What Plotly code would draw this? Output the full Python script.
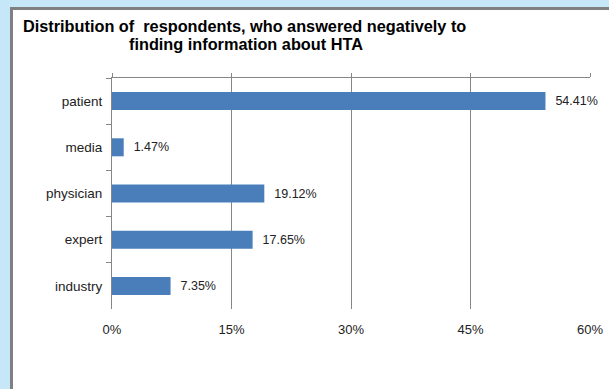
import plotly.graph_objects as go

categories = ["patient", "media", "physician", "expert", "industry"]
values = [54.41, 1.47, 19.12, 17.65, 7.35]
labels = ["54.41%", "1.47%", "19.12%", "17.65%", "7.35%"]
x_ticks = [0, 15, 30, 45, 60]
x_tick_labels = ["0%", "15%", "30%", "45%", "60%"]
title_line1 = "Distribution of\u00a0\u00a0respondents, who answered negatively to"
title_line2 = "finding information about HTA"

W, H = 609, 389
ML, MR, MT, MB = 112, 19, 78, 80
PW, PH = W - ML - MR, H - MT - MB

def px_x(p):
    return (p - ML) / PW

def px_y(p):
    return (H - MB - p) / PH

FONT = "Liberation Sans, Arial, sans-serif"
GRID = "#868686"

fig = go.Figure()
fig.add_trace(go.Bar(
    x=values, y=categories, orientation="h",
    marker=dict(color="#4a7ebb", line=dict(width=0)),
    text=["\u00a0\u00a0" + t for t in labels], textposition="outside",
    textfont=dict(family=FONT, size=12.5, color="#222222"),
    cliponaxis=False, width=0.39, hoverinfo="skip",
))
fig.add_trace(go.Scatter(x=[0, 60], y=[categories[0], categories[0]], xaxis="x2",
                         mode="markers", marker=dict(opacity=0), hoverinfo="skip", showlegend=False))

fig.update_layout(
    width=W, height=H,
    margin=dict(l=ML, r=MR, t=MT, b=MB, autoexpand=False),
    paper_bgcolor="#c6e7f7", plot_bgcolor="rgba(0,0,0,0)",
    showlegend=False,
    font=dict(family=FONT, size=12.5, color="#222222"),
    xaxis=dict(range=[0, 60], tickvals=x_ticks, ticktext=x_tick_labels, automargin=False,
               showgrid=True, gridcolor=GRID, gridwidth=1, zeroline=False,
               showline=False, ticks="outside", ticklen=8, tickcolor="rgba(0,0,0,0)",
               tickfont=dict(family=FONT, size=13, color="#222222"), fixedrange=True),
    xaxis2=dict(range=[0, 60], tickvals=x_ticks, overlaying="x", side="top", automargin=False,
                showgrid=False, zeroline=False, showline=True, linecolor=GRID, linewidth=1,
                ticks="outside", ticklen=4, tickcolor=GRID, showticklabels=False),
    yaxis=dict(autorange="reversed", showline=True, linecolor=GRID, linewidth=1, automargin=False,
               ticks="outside", ticklen=5, tickcolor=GRID, tickson="boundaries",
               showgrid=False, ticklabelstandoff=6,
               tickfont=dict(family=FONT, size=13.5, color="#222222")),
    shapes=[dict(type="rect", xref="paper", yref="paper", layer="below",
                 x0=px_x(11.5), x1=px_x(640), y0=px_y(8.5), y1=px_y(420),
                 fillcolor="white", line=dict(color="#808080", width=3))],
    annotations=[
        dict(text="<b>" + title_line1 + "</b>", xref="paper", yref="paper",
             x=px_x(21), y=px_y(26), xanchor="left", yanchor="middle", showarrow=False,
             font=dict(family=FONT, size=16.3, color="#000000")),
        dict(text="<b>" + title_line2 + "</b>", xref="paper", yref="paper",
             x=px_x(127), y=px_y(44), xanchor="left", yanchor="middle", showarrow=False,
             font=dict(family=FONT, size=16.3, color="#000000")),
    ],
)
fig.write_html("out.html")
